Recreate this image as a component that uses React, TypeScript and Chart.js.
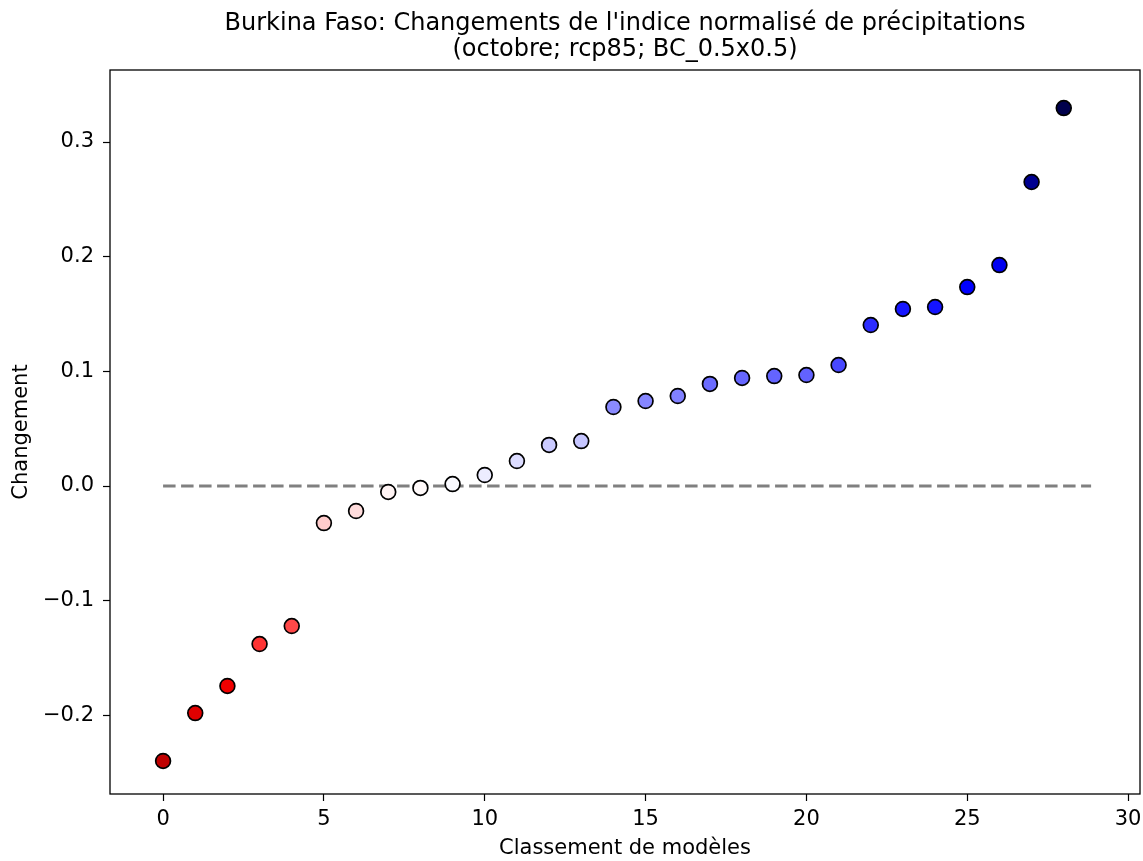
import React, { useEffect, useRef } from "react";
import { Chart, registerables } from "chart.js";

Chart.register(...registerables);

const titleLines = [
  "Burkina Faso: Changements de l'indice normalisé de précipitations",
  "(octobre; rcp85; BC_0.5x0.5)",
];
const xAxisTitle = "Classement de modèles";
const yAxisTitle = "Changement";

const ranks = [0, 1, 2, 3, 4, 5, 6, 7, 8, 9, 10, 11, 12, 13, 14, 15, 16, 17, 18, 19, 20, 21, 22, 23, 24, 25, 26, 27, 28];
const changes = [
  -0.2398, -0.198, -0.1744, -0.1378, -0.1221, -0.0323, -0.0218, -0.0052, -0.0017, 0.0017,
  0.0096, 0.0218, 0.0358, 0.0392, 0.0689, 0.0741, 0.0785, 0.089, 0.0942, 0.0959,
  0.0968, 0.1055, 0.1404, 0.1544, 0.1561, 0.1735, 0.1927, 0.2651, 0.3296,
];
const pointColors = [
  "#c00000", "#e00000", "#f00000", "#ff3434", "#ff4848", "#ffcccc", "#ffdcdc", "#fff4f4", "#fffafa", "#fafaff",
  "#ececff", "#dcdcff", "#cacaff", "#c6c6ff", "#8a8aff", "#8686ff", "#8080ff", "#6c6cff", "#6666ff", "#6464ff",
  "#6262ff", "#4848ff", "#2c2cff", "#1616ff", "#1414ff", "#0000ff", "#0000f0", "#000090", "#00004c",
];
const zeroLineX = [0, 28.85];
const zeroLineY = [0, 0];

const FONT = "'DejaVu Sans', sans-serif";

const fmt = (v: number) => {
  const s = Math.abs(v) < 1e-9 ? "0.0" : v.toFixed(1);
  return s.replace("-", "\u2212");
};

export default function App() {
  const ref = useRef<HTMLCanvasElement | null>(null);

  useEffect(() => {
    document.body.style.margin = "0";
    const canvas = ref.current;
    if (!canvas) return;

    const framePlugin = {
      id: "frame",
      afterDraw(chart: any) {
        const { ctx, chartArea } = chart;
        ctx.save();
        ctx.strokeStyle = "#000";
        ctx.lineWidth = 1.3;
        ctx.strokeRect(chartArea.left, chartArea.top, chartArea.right - chartArea.left, chartArea.bottom - chartArea.top);
        // title, centred over the plot area
        ctx.fillStyle = "#000";
        ctx.font = `24px ${FONT}`;
        ctx.textAlign = "center";
        ctx.textBaseline = "alphabetic";
        const cx = (chartArea.left + chartArea.right) / 2;
        ctx.fillText(titleLines[0], cx, 30);
        ctx.fillText(titleLines[1], cx, 56);
        ctx.restore();
      },
    };

    const chart = new Chart(canvas, {
      type: "scatter",
      data: {
        datasets: [
          {
            type: "line",
            data: zeroLineX.map((x, i) => ({ x, y: zeroLineY[i] })),
            borderColor: "#808080",
            borderWidth: 2.8,
            borderDash: [12.5, 5.5],
            pointRadius: 0,
            fill: false,
            order: 2,
          } as any,
          {
            data: ranks.map((x, i) => ({ x, y: changes[i] })),
            backgroundColor: pointColors,
            borderColor: "#000",
            borderWidth: 1.7,
            pointRadius: 7.4,
            order: 1,
          },
        ],
      },
      options: {
        animation: false,
        responsive: false,
        devicePixelRatio: 1,
        layout: { autoPadding: false, padding: { left: 0, right: 3, top: 70, bottom: 0 } },
        plugins: {
          legend: { display: false },
          tooltip: { enabled: false },
          title: { display: false },
        },
        scales: {
          x: {
            type: "linear",
            min: -1.65,
            max: 30.37,
            afterFit: (s: any) => { s.height = 67; s.paddingLeft = 0; s.paddingRight = 0; },
            ticks: {
              stepSize: 5,
              includeBounds: false,
              color: "#000",
              font: { family: FONT, size: 21 },
              padding: 6,
              maxRotation: 0,
              callback: (v: any) => String(v),
            },
            grid: { drawOnChartArea: false, color: "#000", tickLength: 7, tickWidth: 1.2 },
            border: { display: false },
            title: {
              display: true,
              text: xAxisTitle,
              color: "#000",
              font: { family: FONT, size: 21 },
              padding: { top: 0, bottom: 0 },
            },
          },
          y: {
            type: "linear",
            min: -0.2686,
            max: 0.3628,
            afterFit: (s: any) => { s.width = 110; s.paddingTop = 0; s.paddingBottom = 0; },
            ticks: {
              stepSize: 0.1,
              includeBounds: false,
              color: "#000",
              font: { family: FONT, size: 21 },
              padding: 9,
              callback: (v: any) => fmt(Number(v)),
            },
            grid: { drawOnChartArea: false, color: "#000", tickLength: 7, tickWidth: 1.2 },
            border: { display: false },
            title: {
              display: true,
              text: yAxisTitle,
              color: "#000",
              font: { family: FONT, size: 21 },
              padding: { top: 9, bottom: 0 },
            },
          },
        },
      },
      plugins: [framePlugin],
    } as any);

    return () => chart.destroy();
  }, []);

  return (
    <div style={{ position: "absolute", left: 0, top: 0, width: 1143, height: 861, background: "#fff" }}>
      <canvas ref={ref} width={1143} height={861} style={{ width: 1143, height: 861 }} />
    </div>
  );
}
